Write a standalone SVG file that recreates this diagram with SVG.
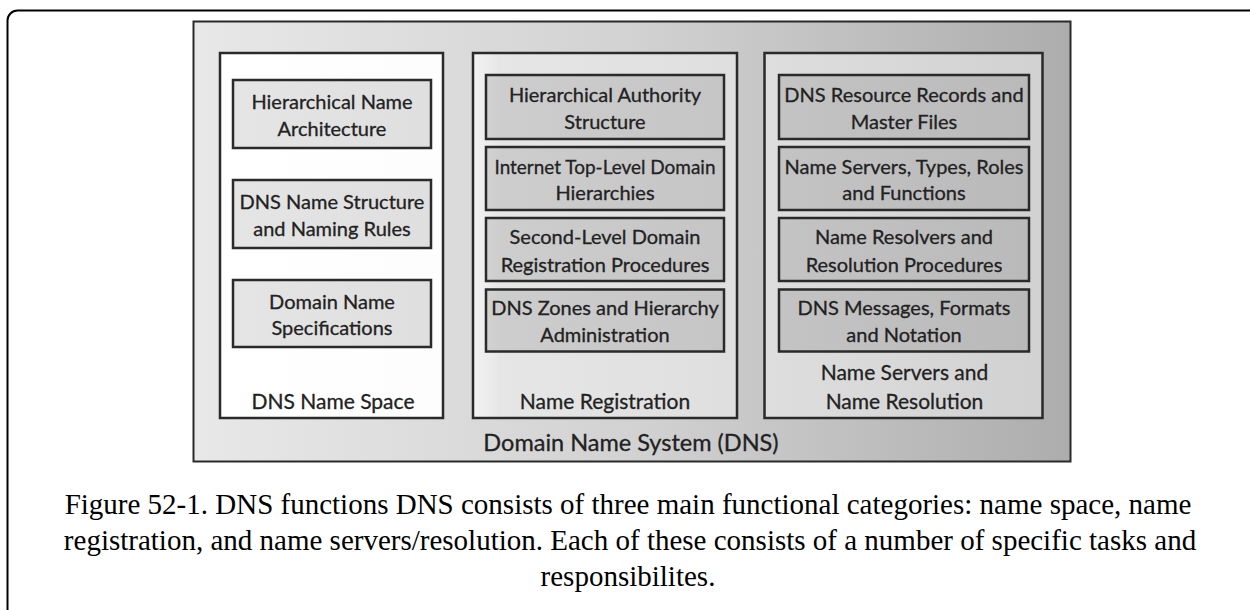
<svg xmlns="http://www.w3.org/2000/svg" width="1250" height="610" viewBox="0 0 1250 610">
<defs>
<linearGradient id="gBg" gradientUnits="userSpaceOnUse" x1="193" y1="0" x2="1071" y2="0">
<stop offset="0" stop-color="#e8e8e8"/><stop offset="0.5" stop-color="#d2d2d2"/><stop offset="1" stop-color="#adadad"/>
</linearGradient>
<linearGradient id="gCol" gradientUnits="userSpaceOnUse" x1="193" y1="0" x2="1071" y2="0">
<stop offset="0" stop-color="#ffffff"/><stop offset="0.3" stop-color="#fdfdfd"/><stop offset="0.35" stop-color="#e6e6e6"/><stop offset="0.65" stop-color="#dedede"/><stop offset="1" stop-color="#d0d0d0"/>
</linearGradient>
<linearGradient id="gBox" gradientUnits="userSpaceOnUse" x1="193" y1="0" x2="1071" y2="0">
<stop offset="0" stop-color="#e6e6e6"/><stop offset="0.3" stop-color="#dedede"/><stop offset="0.35" stop-color="#cdcdcd"/><stop offset="0.65" stop-color="#c4c4c4"/><stop offset="1" stop-color="#b8b8b8"/>
</linearGradient>
</defs>
<style>
.frame{fill:none;stroke:#000;stroke-width:2}
.bg{fill:url(#gBg);stroke:#2a2a2a;stroke-width:2}
.col{fill:url(#gCol);stroke:#2a2a2a;stroke-width:2.5}
.box{fill:url(#gBox);stroke:#2a2a2a;stroke-width:2.5}
.t,.tl,.tm{font-family:Lato,"DejaVu Sans",sans-serif;fill:#222;stroke:#222;stroke-width:0.3;text-anchor:middle}
.t{font-size:20px}
.tl{font-size:21px}
.tm{font-size:23.5px}
.cap{font-family:"Liberation Serif","Times New Roman",serif;font-size:29px;fill:#000;text-anchor:middle}
</style>
<rect class="frame" x="7.5" y="10.5" width="1260" height="640" rx="10"/>
<g id="dns">
<rect class="bg" x="193.5" y="21.5" width="877" height="440"/>
<text class="tm" x="631" y="451">Domain Name System (DNS)</text>
</g>
<g id="name-space">
<rect class="col" x="220" y="53" width="223" height="365"/>
<text class="tl" x="333" y="409">DNS Name Space</text>
</g>
<g id="ns-1"><rect class="box" x="233" y="80" width="198" height="68"/>
<text class="t" x="332" y="108.5">Hierarchical Name</text><text class="t" x="332" y="136">Architecture</text></g>
<g id="ns-2"><rect class="box" x="233" y="180" width="198" height="68"/>
<text class="t" x="332" y="208.5">DNS Name Structure</text><text class="t" x="332" y="236">and Naming Rules</text></g>
<g id="ns-3"><rect class="box" x="233" y="280" width="198" height="67"/>
<text class="t" x="332" y="308.5">Domain Name</text><text class="t" x="332" y="335">Specifications</text></g>
<g id="name-registration">
<rect class="col" x="473" y="53" width="264" height="365"/>
<text class="tl" x="605" y="409">Name Registration</text>
</g>
<g id="nr-1"><rect class="box" x="486" y="75" width="238" height="64"/>
<text class="t" x="605" y="102">Hierarchical Authority</text><text class="t" x="605" y="128.5">Structure</text></g>
<g id="nr-2"><rect class="box" x="486" y="147" width="238" height="63"/>
<text class="t" x="605" y="173.5" textLength="221" lengthAdjust="spacingAndGlyphs">Internet Top-Level Domain</text><text class="t" x="605" y="200">Hierarchies</text></g>
<g id="nr-3"><rect class="box" x="486" y="218" width="238" height="63"/>
<text class="t" x="605" y="243.5">Second-Level Domain</text><text class="t" x="605" y="272">Registration Procedures</text></g>
<g id="nr-4"><rect class="box" x="486" y="289.5" width="238" height="62"/>
<text class="t" x="605" y="315">DNS Zones and Hierarchy</text><text class="t" x="605" y="342">Administration</text></g>
<g id="name-servers">
<rect class="col" x="764.5" y="53" width="278" height="365"/>
<text class="tl" x="904.5" y="380">Name Servers and</text>
<text class="tl" x="904.5" y="409">Name Resolution</text>
</g>
<g id="rs-1"><rect class="box" x="779" y="75" width="250" height="64"/>
<text class="t" x="904" y="102">DNS Resource Records and</text><text class="t" x="904" y="128.5">Master Files</text></g>
<g id="rs-2"><rect class="box" x="779" y="147" width="250" height="63"/>
<text class="t" x="904" y="173.5">Name Servers, Types, Roles</text><text class="t" x="904" y="200">and Functions</text></g>
<g id="rs-3"><rect class="box" x="779" y="218" width="250" height="63"/>
<text class="t" x="904" y="243.5">Name Resolvers and</text><text class="t" x="904" y="272">Resolution Procedures</text></g>
<g id="rs-4"><rect class="box" x="779" y="289.5" width="250" height="62"/>
<text class="t" x="904" y="315">DNS Messages, Formats</text><text class="t" x="904" y="342">and Notation</text></g>
<g id="caption">
<text class="cap" x="628" y="514">Figure 52-1. DNS functions DNS consists of three main functional categories: name space, name</text>
<text class="cap" x="630" y="550">registration, and name servers/resolution. Each of these consists of a number of specific tasks and</text>
<text class="cap" x="628" y="586">responsibilites.</text>
</g>
</svg>
